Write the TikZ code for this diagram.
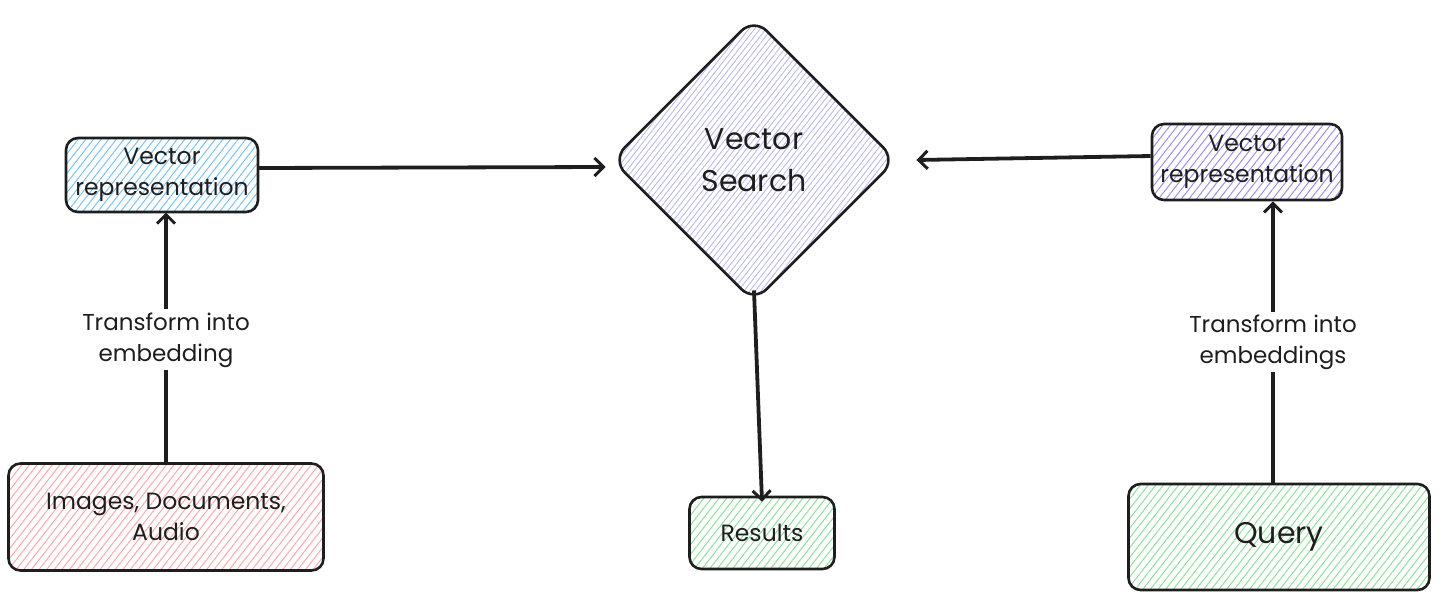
\documentclass[tikz,border=0pt]{standalone}
\usepackage{fontspec}
\setmainfont{Poppins}
\usetikzlibrary{shapes.geometric,patterns.meta,arrows.meta}
\definecolor{hblue}{HTML}{7CC2F5}
\definecolor{hpink}{HTML}{FFA8A8}
\definecolor{hgreen}{HTML}{8EE09B}
\definecolor{hlav}{HTML}{BDB8F2}
\definecolor{hviolet}{HTML}{9D8DF2}
\definecolor{ink}{HTML}{1E1E1E}
\begin{document}
\begin{tikzpicture}[x=1pt,y=-1pt,
 box/.style={draw=ink, line width=2.6pt, rounded corners=12pt, align=center, font=\fontsize{23.5}{31}\selectfont, inner sep=0pt, text=ink},
 hatch/.style={pattern={Lines[angle=52,distance=6pt,line width=1pt]}, pattern color=#1},
 conn/.style={line width=3.8pt, draw=ink, -{Straight Barb[length=9pt,width=18pt,line width=3pt]}},
 lbl/.style={fill=white, align=center, font=\fontsize{23}{31}\selectfont, inner sep=3pt, text=ink}]
\useasboundingbox (0,0) rectangle (1440,600);
\node[box, hatch=hblue, minimum width=192pt, minimum height=74pt] (vl) at (162,175) {Vector\\representation};
\node[box, hatch=hpink, minimum width=315pt, minimum height=107pt] (src) at (166,517) {Images, Documents,\\Audio};
\node[box, hatch=hviolet, minimum width=190pt, minimum height=76pt] (vr) at (1247,162) {Vector\\representation};
\node[box, hatch=hgreen, minimum width=301pt, minimum height=106pt, font=\fontsize{30}{36}\selectfont] (q) at (1279,537) {Query};
\node[box, hatch=hgreen, minimum width=145pt, minimum height=72pt] (res) at (762,533) {Results};
\node[box, pattern={Lines[angle=52,distance=4.5pt,line width=0.9pt]}, pattern color=hlav, diamond, aspect=1, minimum width=284pt, minimum height=284pt, rounded corners=18pt, font=\fontsize{30}{42}\selectfont] (vs) at (754,160) {Vector\\Search};

\draw[conn] (src.north) -- (src.north |- vl.south) node[lbl, pos=0.49] {Transform into\\embedding};
\draw[conn] ([xshift=-6pt]q.north) -- ([xshift=-6pt]q.north |- vr.south) node[lbl, pos=0.5] {Transform into\\embeddings};
\draw[conn] ([yshift=7pt]vl.east) -- ([xshift=-6pt,yshift=-7pt]vs.west);
\draw[conn] ([yshift=6pt]vr.west) -- ([xshift=20pt]vs.east);
\draw[conn] ([yshift=12pt]vs.south) -- ([yshift=-6pt]res.north);
\end{tikzpicture}
\end{document}
